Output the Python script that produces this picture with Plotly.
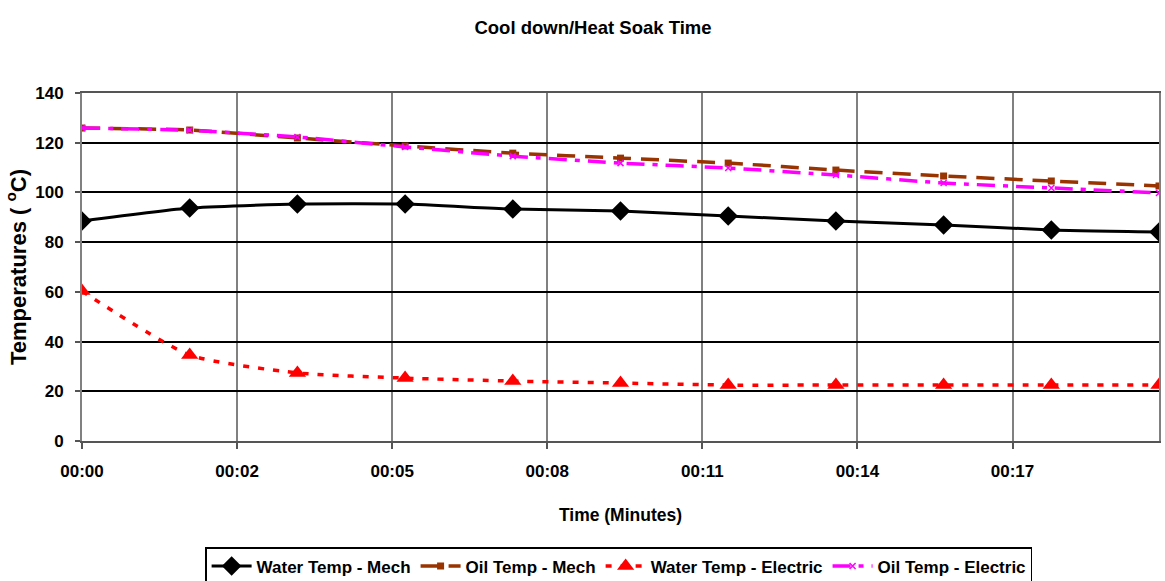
import plotly.graph_objects as go

# Data (minutes since start)
time_min = [0, 2, 4, 6, 8, 10, 12, 14, 16, 18, 20]
water_mech = [88.5, 93.7, 95.3, 95.3, 93.3, 92.5, 90.5, 88.5, 86.9, 84.9, 84.1]
oil_mech = [125.9, 125.1, 121.9, 118.7, 115.8, 113.8, 111.8, 109.0, 106.6, 104.6, 102.6]
water_elec = [60.3, 34.6, 27.4, 25.3, 24.1, 23.3, 22.5, 22.5, 22.5, 22.5, 22.5]
oil_elec = [125.9, 125.0, 122.3, 118.3, 114.6, 111.8, 109.8, 107.0, 103.8, 101.8, 99.8]

x_tick_vals = [0, 2.88, 5.76, 8.64, 11.52, 14.4, 17.28]
x_tick_text = ["00:00", "00:02", "00:05", "00:08", "00:11", "00:14", "00:17"]
y_tick_vals = [0, 20, 40, 60, 80, 100, 120, 140]

FONT = "Liberation Sans, Arial, sans-serif"

fig = go.Figure()
fig.add_trace(go.Scatter(
    x=time_min, y=water_mech, name="Water Temp - Mech", mode="lines+markers",
    line=dict(color="#000000", width=3, shape="spline", smoothing=0.5),
    marker=dict(symbol="diamond", size=15, color="#000000")))
fig.add_trace(go.Scatter(
    x=time_min, y=oil_mech, name="Oil Temp - Mech", mode="lines+markers",
    line=dict(color="#993300", width=3.5, dash="18px,10px", shape="spline", smoothing=0.5),
    marker=dict(symbol="square", size=7, color="#993300")))
fig.add_trace(go.Scatter(
    x=time_min, y=water_elec, name="Water Temp - Electric", mode="lines+markers",
    line=dict(color="#FF0000", width=3.5, dash="6px,9px", shape="spline", smoothing=0.6),
    marker=dict(symbol="triangle-up", size=15, color="#FF0000")))
fig.add_trace(go.Scatter(
    x=time_min, y=oil_elec, name="Oil Temp - Electric", mode="lines+markers",
    line=dict(color="#FF00FF", width=3.5, dash="18px,8px,5px,8px", shape="spline", smoothing=0.5),
    marker=dict(symbol="x-thin", size=6, color="#FF00FF", line=dict(color="#FF00FF", width=1.5))))

fig.update_layout(
    width=1165, height=581,
    paper_bgcolor="white", plot_bgcolor="white",
    margin=dict(l=82, r=6, t=93, b=140, autoexpand=False),
    title=dict(text="Cool down/Heat Soak Time", x=0.509, xanchor="center",
               y=0.953, yanchor="middle",
               font=dict(family=FONT, size=18.5, color="black", weight="bold")),
    font=dict(family=FONT, color="black"),
    showlegend=True,
    legend=dict(orientation="h", xref="container", yref="container",
                x=0.531, xanchor="center", y=1 - 547 / 581, yanchor="top",
                bordercolor="black", borderwidth=1.5, bgcolor="white",
                font=dict(family=FONT, size=17, color="black", weight="bold"),
                itemwidth=40, tracegroupgap=0),
)

fig.update_xaxes(
    range=[0, 20], tickvals=x_tick_vals, ticktext=x_tick_text,
    tickfont=dict(family=FONT, size=17, color="black", weight="bold"),
    ticks="outside", ticklen=6, tickcolor="#555555", tickwidth=1.5,
    ticklabelstandoff=8,
    showgrid=True, gridcolor="#808080", gridwidth=1.5,
    showline=True, linecolor="#555555", linewidth=2, mirror=True,
    zeroline=False, automargin=False,
    title=dict(text="Time (Minutes)", standoff=28,
               font=dict(family=FONT, size=17.5, color="black", weight="bold")),
)

fig.update_yaxes(
    range=[0, 140], tickvals=y_tick_vals,
    tickfont=dict(family=FONT, size=17, color="black", weight="bold"),
    ticks="outside", ticklen=5, tickcolor="#555555", tickwidth=1.5,
    ticklabelstandoff=8,
    showgrid=True, gridcolor="#000000", gridwidth=1.5,
    showline=True, linecolor="#808080", linewidth=2, mirror=True,
    zeroline=False, automargin=False,
    title=dict(text="Temperatures ( <sup>o</sup>C)", standoff=3,
               font=dict(family=FONT, size=22, color="black", weight="bold")),
)

fig.write_html("out.html", config={"displayModeBar": False},
               post_script="document.body.style.margin='0';")
